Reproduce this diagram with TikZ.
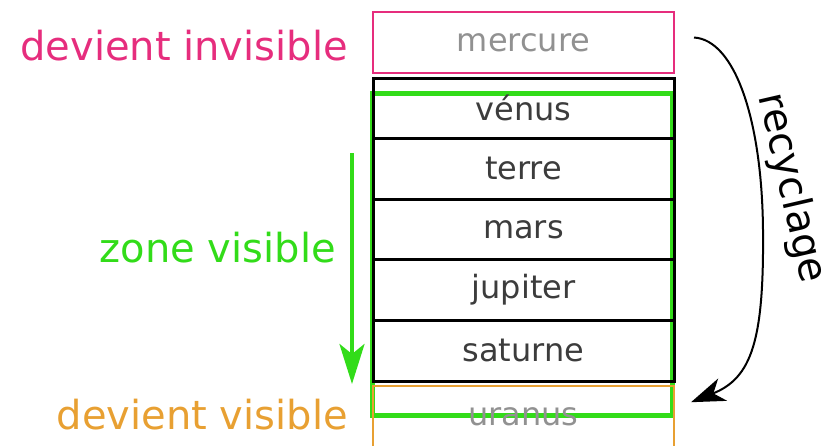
\documentclass[tikz,border=0pt]{standalone}
\usepackage{fontspec}
\setmainfont{DejaVu Sans}
\usetikzlibrary{arrows.meta}
\definecolor{rose}{RGB}{230,45,125}
\definecolor{vert}{RGB}{50,220,25}
\definecolor{orange}{RGB}{232,160,50}
\definecolor{gristexte}{RGB}{60,60,60}
\definecolor{grisclair}{RGB}{145,145,145}
\tikzset{
  planete/.style={draw,line width=3pt,minimum width=301pt,minimum height=60.6pt,inner sep=0pt,
    outer sep=0pt,text=gristexte,font=\fontsize{32}{38}\selectfont},
  etiquette/.style={anchor=east,inner sep=0pt,font=\fontsize{40}{48}\selectfont}
}
\begin{document}
\begin{tikzpicture}[x=1pt,y=-1pt]
                \useasboundingbox (0,0) rectangle (830,445);
                \draw [vert,line width=5pt] (372,93) rectangle (672,415);
                \node[planete,draw=rose,line width=2.5pt,text=grisclair] (mercure) at (523.5,42.5) {mercure};
                \node[planete] (venus) at (523.5,108.3) {vénus};
                \node[planete] (terre) at (523.5,168.9) {terre};
                \node[planete] (mars) at (523.5,229.5) {mars};
                \node[planete] (jupiter) at (523.5,290.1) {jupiter};
                \node[planete] (saturne) at (523.5,350.7) {saturne};
                \node[planete,draw=orange,line width=2.5pt,text=grisclair] (uranus) at (523.5,416.5) {uranus};
                \node[etiquette,text=rose] (invisible) at (348,46) {devient invisible};
                \node[etiquette,text=vert] (zone) at (336,248) {zone visible};
                \node[etiquette,text=orange] (visible) at (348,415) {devient visible};
                \coordinate (zonehaut) at (352,153);
                \coordinate (zonebas) at (352,384);
                \draw [vert,line width=4pt,-{Stealth[length=40pt,width=25pt,inset=10pt]}] (zonehaut)--(zonebas);
                \draw [line width=2pt,-{Stealth[length=34pt,width=24pt,inset=10pt]}] ([shift={(20,-5)}]mercure.east)
                  .. controls (735,40) and (762,120) .. (763,230)
                  .. controls (764,340) and (752,378) .. ([shift={(17,16)}]uranus.north east);
                \node[rotate=-77,font=\fontsize{40}{48}\selectfont] (recyclage) at (791,188) {recyclage};
                \end{tikzpicture}
\end{document}
